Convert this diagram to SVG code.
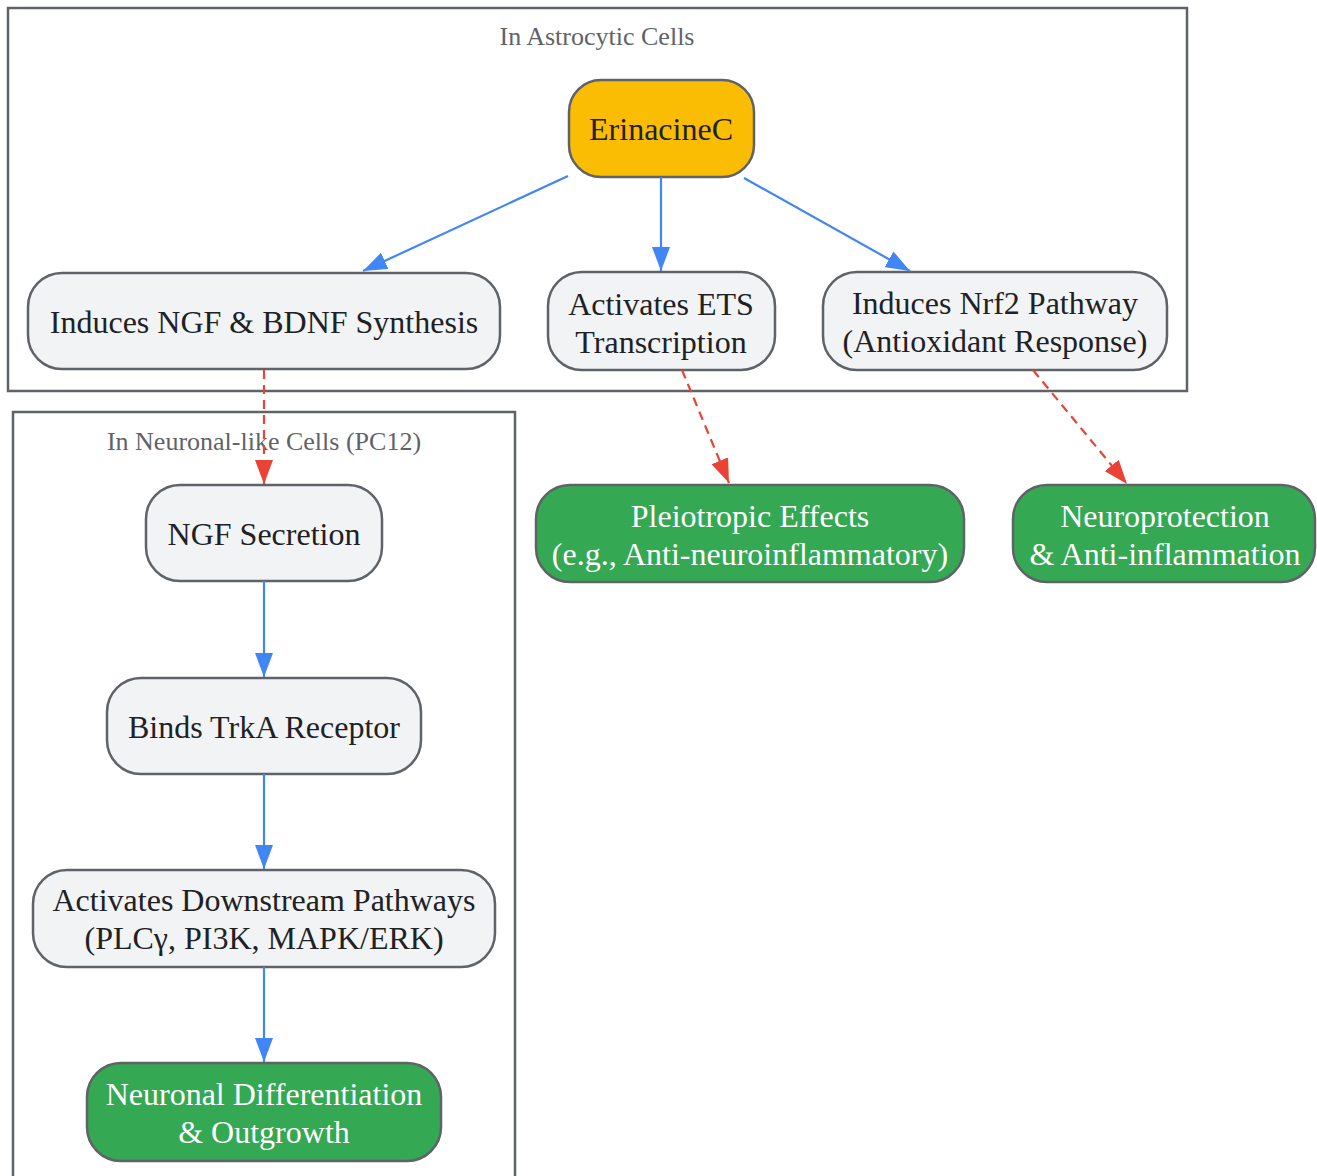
<svg xmlns="http://www.w3.org/2000/svg" width="1317" height="1176" viewBox="0 0 1317 1176">
<style>
.cluster{fill:#ffffff;stroke:#5f6368;stroke-width:2.5}
.ctitle{font-family:"Liberation Serif",serif;font-size:26px;fill:#5f6368;text-anchor:middle}
.node{fill:#f1f3f4;stroke:#5f6368;stroke-width:2.5}
.start{fill:#fbbc04;stroke:#5f6368;stroke-width:2.5}
.out{fill:#34a853;stroke:#5f6368;stroke-width:2.5}
.t{font-family:"Liberation Serif",serif;font-size:32px;fill:#202124;text-anchor:middle}
.tw{font-family:"Liberation Serif",serif;font-size:32px;fill:#ffffff;text-anchor:middle}
.blue{stroke:#4285f4;stroke-width:2.2;fill:none}
.red{stroke:#ea4335;stroke-width:2.2;fill:none;stroke-dasharray:9,6}
</style>
<defs>
<marker id="ab" markerUnits="userSpaceOnUse" markerWidth="24" markerHeight="18" refX="24" refY="9" orient="auto"><path d="M0,0 L24,9 L0,18 z" fill="#4285f4"/></marker>
<marker id="ar" markerUnits="userSpaceOnUse" markerWidth="24" markerHeight="18" refX="24" refY="9" orient="auto"><path d="M0,0 L24,9 L0,18 z" fill="#ea4335"/></marker>
</defs>
<rect x="0" y="0" width="1317" height="1176" fill="#ffffff"/>
<g id="cluster_astro">
<rect class="cluster" x="8" y="8" width="1179" height="383"/>
<text class="ctitle" x="597" y="45">In Astrocytic Cells</text>
</g>
<g id="cluster_neuro">
<rect class="cluster" x="13" y="412" width="502" height="800"/>
<text class="ctitle" x="264" y="450">In Neuronal-like Cells (PC12)</text>
</g>
<g id="n_erinacine">
<rect class="start" x="569" y="80" width="185" height="97" rx="32"/>
<text class="t" x="661" y="140">ErinacineC</text>
</g>
<g id="n_ngfbdnf">
<rect class="node" x="28" y="273" width="472" height="96" rx="34"/>
<text class="t" x="264" y="333">Induces NGF &amp; BDNF Synthesis</text>
</g>
<g id="n_ets">
<rect class="node" x="548" y="272" width="227" height="98" rx="34"/>
<text class="t" x="661" y="315">Activates ETS</text>
<text class="t" x="661" y="353">Transcription</text>
</g>
<g id="n_nrf2">
<rect class="node" x="823" y="272" width="344" height="98" rx="34"/>
<text class="t" x="995" y="314">Induces Nrf2 Pathway</text>
<text class="t" x="995" y="352">(Antioxidant Response)</text>
</g>
<g id="n_ngfsec">
<rect class="node" x="146" y="485" width="236" height="96" rx="34"/>
<text class="t" x="264" y="545">NGF Secretion</text>
</g>
<g id="n_trka">
<rect class="node" x="107" y="678" width="314" height="96" rx="34"/>
<text class="t" x="264" y="738">Binds TrkA Receptor</text>
</g>
<g id="n_downstream">
<rect class="node" x="33" y="870" width="462" height="97" rx="34"/>
<text class="t" x="264" y="911">Activates Downstream Pathways</text>
<text class="t" x="264" y="949">(PLCγ, PI3K, MAPK/ERK)</text>
</g>
<g id="n_neuronal">
<rect class="out" x="87" y="1063" width="354" height="98" rx="34"/>
<text class="tw" x="264" y="1105">Neuronal Differentiation</text>
<text class="tw" x="264" y="1143">&amp; Outgrowth</text>
</g>
<g id="n_pleio">
<rect class="out" x="536" y="485" width="428" height="97" rx="34"/>
<text class="tw" x="750" y="527">Pleiotropic Effects</text>
<text class="tw" x="750" y="565">(e.g., Anti-neuroinflammatory)</text>
</g>
<g id="n_neuroprot">
<rect class="out" x="1013" y="485" width="302" height="97" rx="34"/>
<text class="tw" x="1165" y="527">Neuroprotection</text>
<text class="tw" x="1165" y="565">&amp; Anti-inflammation</text>
</g>
<g id="edges">
<line class="blue" x1="568" y1="176" x2="363" y2="271" marker-end="url(#ab)"/>
<line class="blue" x1="661" y1="177" x2="661" y2="271" marker-end="url(#ab)"/>
<line class="blue" x1="744" y1="178" x2="910" y2="271" marker-end="url(#ab)"/>
<line class="red" x1="264" y1="370" x2="264" y2="484" marker-end="url(#ar)"/>
<line class="red" x1="682" y1="370" x2="729" y2="483" marker-end="url(#ar)"/>
<line class="red" x1="1033" y1="370" x2="1127" y2="484" marker-end="url(#ar)"/>
<line class="blue" x1="264" y1="581" x2="264" y2="677" marker-end="url(#ab)"/>
<line class="blue" x1="264" y1="774" x2="264" y2="869" marker-end="url(#ab)"/>
<line class="blue" x1="264" y1="967" x2="264" y2="1062" marker-end="url(#ab)"/>
</g>
</svg>
